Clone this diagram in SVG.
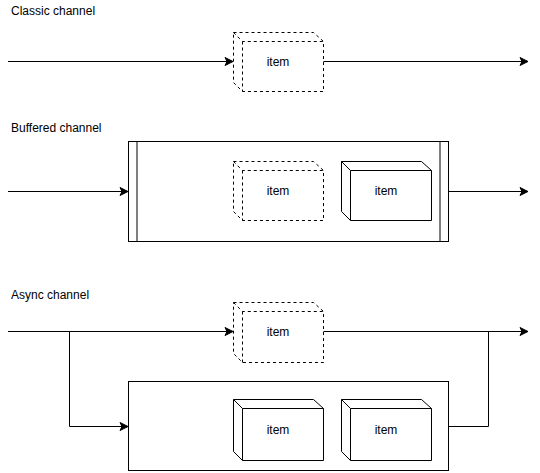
<svg xmlns="http://www.w3.org/2000/svg" width="540" height="473" viewBox="0 0 540 473">
<defs>
<marker id="arr" markerWidth="10" markerHeight="10" viewBox="-9 -5 10 10" refX="0" refY="0" orient="auto" markerUnits="userSpaceOnUse">
<path d="M0,0 L-8,-4 L-6,0 L-8,4 Z" fill="#000" stroke="#000" stroke-width="1"/>
</marker>
</defs>
<style>
.lbl{font-family:"Liberation Sans",Arial,sans-serif;font-size:12px;fill:#000}
.it{font-family:"Liberation Sans",Arial,sans-serif;font-size:12px;fill:#000;text-anchor:middle}
.ln{fill:none;stroke:#000;stroke-width:1}
.cube{fill:#fff;stroke:#000;stroke-width:1}
.dash{stroke-dasharray:3 3}
.box{fill:#fff;stroke:#000;stroke-width:1}
</style>
<rect x="0" y="0" width="540" height="473" fill="#fff"/>
<text class="lbl" x="11" y="15">Classic channel</text>
<text class="lbl" x="11" y="132">Buffered channel</text>
<text class="lbl" x="11" y="299">Async channel</text>

<g id="buffer">
<rect class="box" x="128.5" y="141.5" width="320" height="100"/>
<line class="ln" x1="137" y1="141.5" x2="137" y2="241.5"/>
<line class="ln" x1="440" y1="141.5" x2="440" y2="241.5"/>
</g>
<g id="async-box">
<rect class="box" x="128.5" y="381.5" width="320" height="89"/>
</g>

<g id="connectors">
<line class="ln" x1="8" y1="61.5" x2="233" y2="61.5" marker-end="url(#arr)"/>
<line class="ln" x1="323" y1="61.5" x2="528" y2="61.5" marker-end="url(#arr)"/>
<line class="ln" x1="8" y1="191.5" x2="128" y2="191.5" marker-end="url(#arr)"/>
<line class="ln" x1="448" y1="191.5" x2="528" y2="191.5" marker-end="url(#arr)"/>
<line class="ln" x1="8" y1="331.5" x2="233" y2="331.5" marker-end="url(#arr)"/>
<line class="ln" x1="323" y1="331.5" x2="528" y2="331.5" marker-end="url(#arr)"/>
<polyline class="ln" points="69.5,331.5 69.5,426.5 128,426.5" marker-end="url(#arr)"/>
<polyline class="ln" points="448.5,426.5 488.5,426.5 488.5,331.5"/>
</g>

<g id="classic-item">
<path class="cube dash" d="M233.5,32.5 L313.5,32.5 L323.5,41.5 L323.5,91.5 L242.5,91.5 L233.5,82.5 Z"/>
<path class="ln dash" d="M233.5,32.5 L242.5,41.5 L323.5,41.5 M242.5,41.5 L242.5,91.5"/>
<text class="it" x="278" y="66">item</text>
</g>

<g id="buffered-item1">
<path class="cube dash" d="M233.5,161.5 L313.5,161.5 L323.5,170.5 L323.5,220.5 L242.5,220.5 L233.5,211.5 Z"/>
<path class="ln dash" d="M233.5,161.5 L242.5,170.5 L323.5,170.5 M242.5,170.5 L242.5,220.5"/>
<text class="it" x="278" y="195">item</text>
</g>
<g id="buffered-item2">
<path class="cube" d="M341.5,161.5 L421.5,161.5 L431.5,170.5 L431.5,220.5 L350.5,220.5 L341.5,211.5 Z"/>
<path class="ln" d="M341.5,161.5 L350.5,170.5 L431.5,170.5 M350.5,170.5 L350.5,220.5"/>
<text class="it" x="386" y="195">item</text>
</g>

<g id="async-item">
<path class="cube dash" d="M233.5,302.5 L313.5,302.5 L323.5,311.5 L323.5,362.5 L242.5,362.5 L233.5,353.5 Z"/>
<path class="ln dash" d="M233.5,302.5 L242.5,311.5 L323.5,311.5 M242.5,311.5 L242.5,362.5"/>
<text class="it" x="278" y="336">item</text>
</g>
<g id="async-item1">
<path class="cube" d="M233.5,399.5 L313.5,399.5 L323.5,408.5 L323.5,460.5 L242.5,460.5 L233.5,451.5 Z"/>
<path class="ln" d="M233.5,399.5 L242.5,408.5 L323.5,408.5 M242.5,408.5 L242.5,460.5"/>
<text class="it" x="278" y="434">item</text>
</g>
<g id="async-item2">
<path class="cube" d="M341.5,399.5 L421.5,399.5 L431.5,408.5 L431.5,460.5 L350.5,460.5 L341.5,451.5 Z"/>
<path class="ln" d="M341.5,399.5 L350.5,408.5 L431.5,408.5 M350.5,408.5 L350.5,460.5"/>
<text class="it" x="386" y="434">item</text>
</g>
</svg>
